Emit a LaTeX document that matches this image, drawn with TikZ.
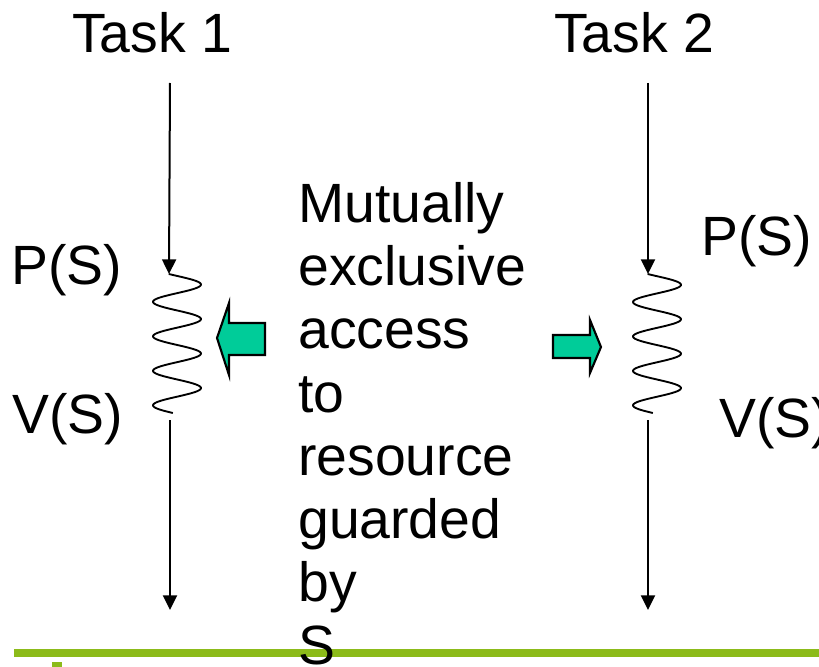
\documentclass[tikz,border=0pt]{standalone}
\usepackage{fontspec}
\setmainfont{Liberation Sans}
\usetikzlibrary{arrows.meta}
\definecolor{colorblk}{HTML}{00CC99}
\definecolor{colorbar}{HTML}{8CBB1A}
\tikzset{
  lbl/.style={draw=none, inner sep=0pt, anchor=base west, font=\fontsize{41.5}{47}\selectfont},
  flow/.style={black, line width=1.5pt, -{Triangle[length=11pt, width=10.5pt]}},
  spring/.style={black, line width=1.4pt},
  blockarr/.style={draw=black, fill=colorblk, line width=1.6pt, line join=miter}
}

\begin{document}
\begin{tikzpicture}[x=0.75pt, y=-0.75pt]
\useasboundingbox (0,0) rectangle (819,667);
\clip (0,0) rectangle (819,667);

% bar at the foot
\draw[colorbar, line width=6pt] (14,653) -- (819,653);
\fill[colorbar] (52,662) rectangle (62,667);

\node[lbl] (task1) at (72,53) {Task 1};
\node[lbl] (task2) at (554,53) {Task 2};

\node[lbl] (p1) at (11,284) {P(S)};
\node[lbl] (v1) at (12,433) {V(S)};
\node[lbl] (p2) at (701,255) {P(S)};
\node[lbl] (v2) at (719,437) {V(S)};

\foreach \w [count=\i from 0] in {Mutually,exclusive,access,to,resource,guarded,by,S}
  \node[lbl] (m\i) at (298,223+63*\i) {\w};

% task 1
\coordinate (a1) at (170,83);
\coordinate (a2) at (169,274);
\coordinate (a3) at (170,420);
\coordinate (a4) at (170,610);
\draw[flow] (a1) -- (a2);
\draw[spring] plot[domain=-20:1430, samples=160, smooth]
  ({177+24*sin(\x)}, {274+0.09586*(\x+20)});
\draw[flow] (a3) -- (a4);

% task 2
\coordinate (b1) at (648,83);
\coordinate (b2) at (648,274);
\coordinate (b3) at (648,420);
\coordinate (b4) at (648,610);
\draw[flow] (b1) -- (b2);
\draw[spring] plot[domain=-23:1430, samples=160, smooth]
  ({657+24*sin(\x)}, {274+0.09566*(\x+23)});
\draw[flow] (b3) -- (b4);

% block arrows
\draw[blockarr] (217,338) -- (229,303) -- (229,323) -- (265,323)
  -- (265,355) -- (229,355) -- (229,375) -- cycle;
\draw[blockarr] (601,347) -- (590,320) -- (590,335) -- (553,335)
  -- (553,358) -- (590,358) -- (590,373) -- cycle;
\end{tikzpicture}
\end{document}
